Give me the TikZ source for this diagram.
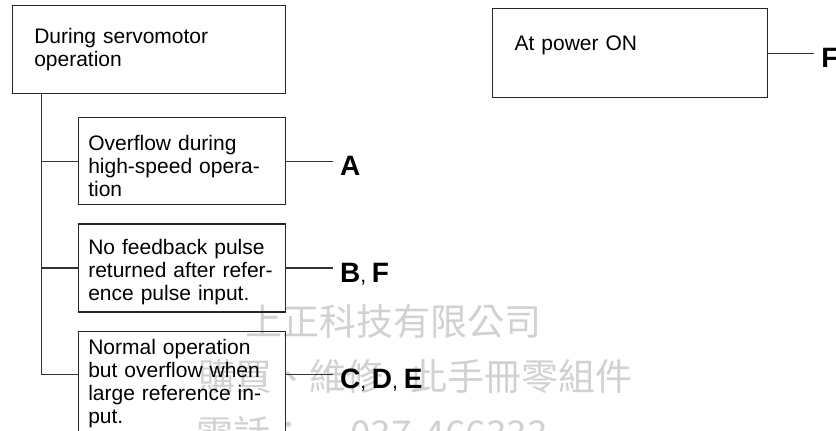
\documentclass[tikz,border=0pt]{standalone}
\usepackage{fontspec}
\setmainfont{Liberation Sans}
\newfontfamily\cjkfont{Noto Sans CJK TC}
\usetikzlibrary{positioning}
\newcommand{\lblcomma}{{\fontsize{21}{23}\selectfont, }}

\begin{document}
\begin{tikzpicture}[
    x=1pt, y=1pt,
    box/.style={rectangle, draw=black!85, line width=1.2pt, inner ysep=0pt,
                align=left, font=\fontsize{21}{23}\selectfont},
    topbox/.style={box, inner xsep=22pt},
    subbox/.style={box, inner xsep=10pt, text width=187pt},
    lbl/.style={inner xsep=7pt, inner ysep=0pt, text height=28pt, text depth=0pt,
                font=\fontsize{28}{30}\selectfont},
    conn/.style={line width=1.2pt, black!80},
    wmark/.style={anchor=base west, inner sep=0pt, text=black!18,
                  font=\cjkfont\fontsize{37}{40}\selectfont}
]
\useasboundingbox (0,0) rectangle (836,-431);
\clip (0,0) rectangle (836,-431);

\node[wmark] (wm1) at (245,-335) {上正科技有限公司};
\node[wmark] (wm2) at (198,-390) {購買、維修\hspace{27pt}此手冊零組件};
\node[wmark] (wm3) at (196,-447) {電話：\hspace{43pt}037-466333};

\node[topbox, text width=229pt, text height=38pt, text depth=50pt,
      anchor=north west] (srv) at (11.7,-5) {During servomotor\\operation};
\node[topbox, text width=231pt, text height=42pt, text depth=47pt,
      anchor=north west] (power) at (492,-8) {At power ON};
\node[subbox, text height=33pt, text depth=54pt,
      below=23pt of srv.south east, anchor=north east] (ovf)
      {Overflow during\\high-speed opera-\\tion};
\node[subbox, text height=30pt, text depth=58pt, below=18pt of ovf] (fbk)
      {No feedback pulse\\returned after refer-\\ence pulse input.};
\node[subbox, text height=23pt, text depth=95pt, below=18pt of fbk] (cde)
      {Normal operation\\but overflow when\\large reference in-\\put.};

\coordinate (trunk) at ([xshift=30pt]srv.south west);
\coordinate (cdein) at ([yshift=16pt]cde.west);
\coordinate (cdeout) at ([yshift=16pt]cde.east);

\node[lbl, right=47pt of ovf] (a) {\textbf{A}};
\node[lbl, right=47pt of fbk] (bf) {\textbf{B}\lblcomma\textbf{F}};
\node[lbl, right=47pt of cdeout] (cdef) {\textbf{C}\lblcomma\textbf{D}\lblcomma\textbf{E}};
\node[lbl, right=46pt of power] (f) {\textbf{F}};

\draw[conn] (trunk) |- (cdein);
\draw[conn] (trunk |- ovf.west) -- (ovf.west);
\draw[conn] (trunk |- fbk.west) -- (fbk.west);
\draw[conn] (ovf) -- (a);
\draw[conn] (fbk) -- (bf);
\draw[conn] (cdeout) -- (cdef);
\draw[conn] (power) -- (f);
\end{tikzpicture}
\end{document}
